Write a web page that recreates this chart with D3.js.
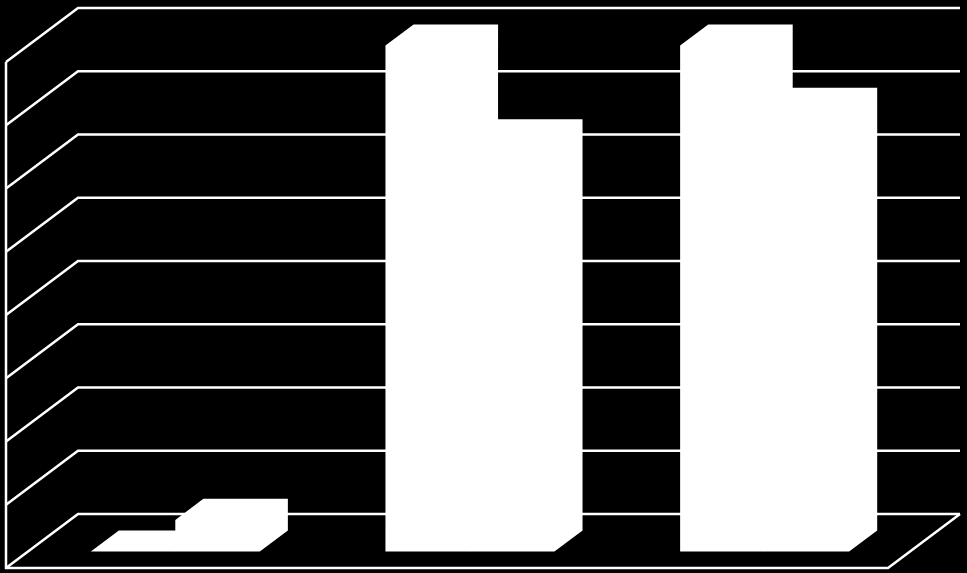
<!DOCTYPE html>
<html>
<head>
<meta charset="utf-8">
<script src="https://cdn.jsdelivr.net/npm/d3@7"></script>
<style>
  html, body { margin: 0; padding: 0; background: #000; overflow: hidden; }
  svg { display: block; }
</style>
</head>
<body>
<svg width="967" height="573"></svg>
<script>
const categories = ["A", "B", "C"];
const seriesNames = ["s1", "s2"];
const series1 = [0, 80, 80];
const series2 = [5, 65, 70];
const valueTicks = [0, 10, 20, 30, 40, 50, 60, 70, 80];

const svg = d3.select("svg"),
      plot = {left: 6, right: 888, bottom: 568, top: 62},
      depth = {dx: 72, dy: -54},
      barFront = 0.305,
      barBack = 0.695;

const x = d3.scaleBand().domain(categories).range([plot.left, plot.right + 2]);
const inner = d3.scaleBand().domain(seriesNames).range([0, 169]);
const y = d3.scaleLinear().domain([0, 80]).range([plot.bottom, plot.top]);

// project a point (front-plane x, value, depth 0..1) to the screen
const px = (xv, d) => xv + depth.dx * d;
const py = (v, d) => y(v) + depth.dy * d;
const line = d3.line();

const wall = svg.append("g")
    .attr("fill", "none")
    .attr("stroke", "#fff")
    .attr("stroke-width", 2.5);

wall.selectAll(".grid")
  .data(valueTicks)
  .enter().append("path")
    .attr("class", "grid")
    .attr("d", v => line([
      [px(plot.left, 0), py(v, 0)],
      [px(plot.left, 1), py(v, 1)],
      [px(plot.right, 1), py(v, 1)]
    ]));

// left edge and floor
wall.append("path")
    .attr("d", line([
      [plot.left, y(80)],
      [plot.left, y(0)],
      [plot.right, y(0)],
      [px(plot.right, 1), py(0, 1)]
    ]));

const rows = [];
categories.forEach((c, i) => {
  rows.push({cat: c, s: "s1", v: series1[i]});
  rows.push({cat: c, s: "s2", v: series2[i]});
});

function barPath(d) {
  const groupLeft = x(d.cat) + (x.bandwidth() - inner.range()[1]) / 2;
  const x0 = groupLeft + inner(d.s),
        x1 = x0 + inner.bandwidth();
  // outline of the front, top and right faces together
  return line([
    [px(x0, barFront), py(0, barFront)],
    [px(x0, barFront), py(d.v, barFront)],
    [px(x0, barBack),  py(d.v, barBack)],
    [px(x1, barBack),  py(d.v, barBack)],
    [px(x1, barBack),  py(0, barBack)],
    [px(x1, barFront), py(0, barFront)]
  ]) + "Z";
}

svg.selectAll(".bar")
  .data(rows)
  .enter().append("path")
    .attr("class", "bar")
    .attr("fill", "#fff")
    .attr("d", barPath);
</script>
</body>
</html>
